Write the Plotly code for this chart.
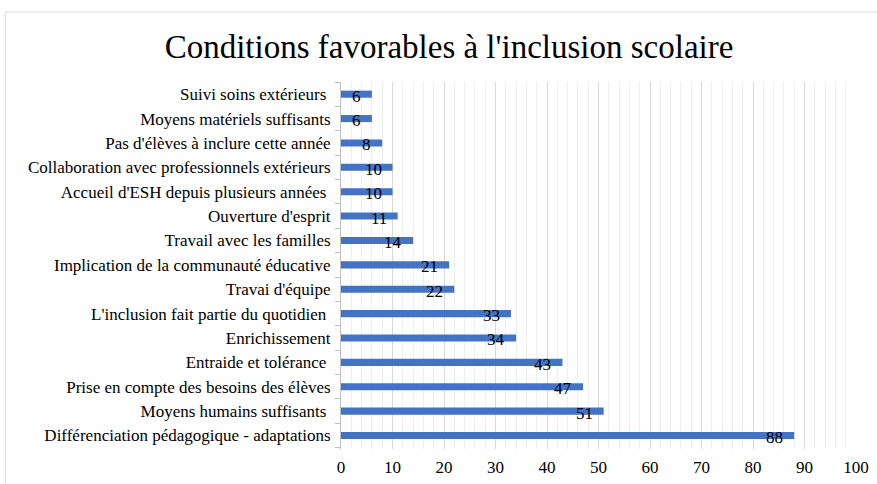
import plotly.graph_objects as go

# Data (top to bottom as in the chart)
categories = [
    "Suivi soins extérieurs ",
    "Moyens matériels suffisants",
    "Pas d'élèves à inclure cette année",
    "Collaboration avec professionnels extérieurs",
    "Accueil d'ESH depuis plusieurs années ",
    "Ouverture d'esprit",
    "Travail avec les familles",
    "Implication de la communauté éducative",
    "Travai d'équipe",
    "L'inclusion fait partie du quotidien ",
    "Enrichissement",
    "Entraide et tolérance ",
    "Prise en compte des besoins des élèves",
    "Moyens humains suffisants ",
    "Différenciation pédagogique - adaptations",
]
values = [6, 6, 8, 10, 10, 11, 14, 21, 22, 33, 34, 43, 47, 51, 88]

FONT = "Liberation Serif, Times New Roman, serif"
BAR_COLOR = "#4472C4"

fig = go.Figure()
fig.add_trace(go.Bar(
    x=values,
    y=categories,
    orientation="h",
    width=0.29,
    marker=dict(color=BAR_COLOR, line=dict(width=0)),
    hoverinfo="x+y",
))

# value labels, inside end like Excel
for cat, val in zip(categories, values):
    fig.add_annotation(
        x=val, y=cat, text=str(val),
        xanchor="right", yanchor="middle",
        xshift=-9, yshift=-2,
        showarrow=False,
        font=dict(family=FONT, size=17, color="#000000"),
    )

# light chart-area border
fig.add_shape(
    type="rect", xref="paper", yref="paper",
    x0=-0.652, x1=1.06, y0=-0.2, y1=1.191,
    line=dict(color="#d9d9d9", width=1), fillcolor="rgba(0,0,0,0)",
    layer="below",
)

fig.update_layout(
    width=877, height=484,
    paper_bgcolor="white", plot_bgcolor="white",
    margin=dict(l=341, r=21, t=82, b=35, autoexpand=False),
    showlegend=False,
    font=dict(family=FONT, size=17, color="#000000"),
    title=dict(
        text="Conditions favorables à l'inclusion scolaire",
        x=0.512, xanchor="center",
        yref="container", y=0.905, yanchor="middle",
        font=dict(family=FONT, size=33, color="#000000"),
    ),
    xaxis=dict(
        range=[0, 100], dtick=10, tick0=0,
        showgrid=True, gridcolor="#d9d9d9", gridwidth=1,
        minor=dict(dtick=2, showgrid=True, gridcolor="#efefef", gridwidth=1),
        zeroline=False, showline=False,
        tickfont=dict(family=FONT, size=17, color="#000000"),
        ticks="", ticklabelstandoff=6,
        automargin=False,
        fixedrange=True,
    ),
    yaxis=dict(
        categoryorder="array", categoryarray=categories[::-1],
        showgrid=False, zeroline=False,
        showline=True, linecolor="#bfbfbf", linewidth=1,
        ticks="outside", tickson="boundaries", ticklen=5, tickcolor="#bfbfbf",
        tickfont=dict(family=FONT, size=17, color="#000000"),
        ticklabelstandoff=6,
        automargin=False,
        fixedrange=True,
    ),
)

# remove the page's default body margin so the figure sits at the window origin
fig.write_html(
    "out.html",
    config={"displayModeBar": False},
    post_script="document.body.style.margin='0';",
)
